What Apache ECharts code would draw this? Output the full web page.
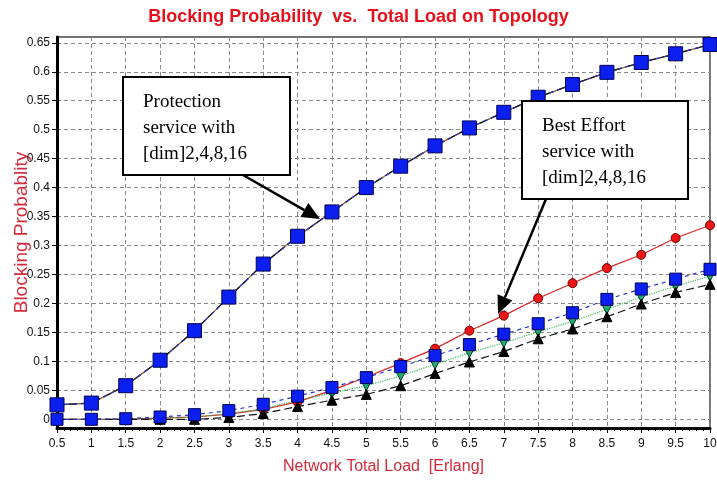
<!DOCTYPE html>
<html>
<head>
<meta charset="utf-8">
<script src="https://cdn.jsdelivr.net/npm/echarts@6/dist/echarts.min.js"></script>
<style>
  html, body { margin: 0; padding: 0; background: #fff; }
  #main { width: 717px; height: 486px; }
</style>
</head>
<body>
<div id="main"></div>
<script>
// network total load [Erlang]
var loads = [0.5, 1, 1.5, 2, 2.5, 3, 3.5, 4, 4.5, 5, 5.5, 6, 6.5, 7, 7.5, 8, 8.5, 9, 9.5, 10];
var yTicks = [0, 0.05, 0.1, 0.15, 0.2, 0.25, 0.3, 0.35, 0.4, 0.45, 0.5, 0.55, 0.6, 0.65];

// protection service, all dims overlap
var protection = [0.025, 0.028, 0.058, 0.102, 0.153, 0.211, 0.268, 0.316, 0.358, 0.40, 0.437, 0.472, 0.503, 0.53, 0.556, 0.578, 0.599, 0.616, 0.631, 0.647];

// best effort service
var bestDim2 = [0, 0, 0, 0.002, 0.004, 0.009, 0.017, 0.03, 0.05, 0.073, 0.097, 0.122, 0.153, 0.179, 0.209, 0.235, 0.261, 0.284, 0.313, 0.335];
var bestDim4 = [0, 0, 0.001, 0.004, 0.008, 0.015, 0.026, 0.04, 0.055, 0.072, 0.091, 0.11, 0.129, 0.147, 0.165, 0.184, 0.207, 0.225, 0.242, 0.259];
var bestDim8 = [0, 0, 0, 0.002, 0.004, 0.01, 0.018, 0.033, 0.045, 0.058, 0.075, 0.095, 0.115, 0.132, 0.151, 0.169, 0.19, 0.211, 0.23, 0.247];
var bestDim16 = [0, 0, 0, 0, 0, 0.003, 0.01, 0.022, 0.033, 0.043, 0.058, 0.079, 0.099, 0.117, 0.139, 0.156, 0.177, 0.199, 0.219, 0.233];

function pairs(vals) {
    return loads.map(function (x, i) { return [x, vals[i]]; });
}

var sans = "'Liberation Sans', Arial, sans-serif";
var serif = "'Liberation Serif', 'Times New Roman', serif";

var styles = {
    red:   { line: { color: '#dd2222', width: 1.2, type: 'solid' }, symbol: 'circle', size: 9, item: { color: '#ee1515', borderColor: '#700000', borderWidth: 1 }, rotate: 0 },
    green: { line: { color: '#33bb55', width: 1.2, type: 'dotted' }, symbol: 'triangle', size: 10, item: { color: '#22aa77', borderColor: '#004422', borderWidth: 1 }, rotate: 180 },
    black: { line: { color: '#111111', width: 1.2, type: [8, 4] }, symbol: 'triangle', size: 10, item: { color: '#000000', borderColor: '#000000', borderWidth: 1 }, rotate: 0 },
    blue:  { line: { color: '#2233cc', width: 1.2, type: [4, 4] }, symbol: 'rect', size: 12, item: { color: '#0b1ff0', borderColor: '#000055', borderWidth: 1 }, rotate: 0 }
};

function makeSeries(name, vals, s, size) {
    return {
        name: name,
        type: 'line',
        data: pairs(vals),
        symbol: s.symbol,
        symbolSize: size || s.size,
        symbolRotate: s.rotate,
        showAllSymbol: true,
        lineStyle: s.line,
        itemStyle: s.item,
        silent: true,
        animation: false
    };
}

var series = [
    makeSeries('BE dim2', bestDim2, styles.red),
    makeSeries('BE dim8', bestDim8, styles.green),
    makeSeries('BE dim16', bestDim16, styles.black),
    makeSeries('BE dim4', bestDim4, styles.blue, 12),
    makeSeries('P dim2', protection, styles.red),
    makeSeries('P dim8', protection, styles.green),
    makeSeries('P dim16', protection, styles.black),
    makeSeries('P dim4', protection, styles.blue, 14)
];

function box(x, y, w, h, txt) {
    return [
        { type: 'rect', shape: { x: x, y: y, width: w, height: h }, style: { fill: '#fff', stroke: '#000', lineWidth: 2 }, z: 100 },
        { type: 'text', x: x + 20, y: y + 12, style: { text: txt, font: '19px ' + serif, fill: '#000', lineHeight: 26 }, z: 101 }
    ];
}

function arrow(x1, y1, x2, y2) {
    var a = Math.atan2(y2 - y1, x2 - x1), L = 18, W = 8;
    var bx = x2 - L * Math.cos(a), by = y2 - L * Math.sin(a);
    var px = -Math.sin(a) * W, py = Math.cos(a) * W;
    return [
        { type: 'line', shape: { x1: x1, y1: y1, x2: bx, y2: by }, style: { stroke: '#000', lineWidth: 2.5 }, z: 100 },
        { type: 'polygon', shape: { points: [[x2, y2], [bx + px, by + py], [bx - px, by - py]] }, style: { fill: '#000' }, z: 100 }
    ];
}

var myChart = echarts.init(document.getElementById('main'));
var option = {
    animation: false,
    backgroundColor: '#fff',
    title: {
        text: 'Blocking Probability  vs.  Total Load on Topology',
        left: 'center',
        top: 3,
        textStyle: { color: '#e8101a', fontSize: 18, fontWeight: 'bold', fontFamily: sans }
    },
    grid: { left: 57, right: 7, top: 37, bottom: 58, outerBoundsMode: 'none', containLabel: false, show: true, borderColor: '#444', borderWidth: 1.5, backgroundColor: '#fff' },
    xAxis: {
        type: 'value',
        min: 0.5,
        max: 10,
        interval: 0.5,
        name: 'Network Total Load  [Erlang]',
        nameLocation: 'middle',
        nameGap: 31,
        nameMoveOverlap: false,
        nameTextStyle: { color: '#d42a3a', fontSize: 16, fontFamily: sans },
        axisLine: { onZero: false, lineStyle: { color: '#000', width: 3 } },
        axisTick: { length: 5, lineStyle: { color: '#000' } },
        minorTick: { show: true, splitNumber: 5, length: 3, lineStyle: { color: '#000' } },
        axisLabel: { color: '#111', fontSize: 12, fontFamily: sans, margin: 10 },
        splitLine: { show: true, lineStyle: { color: '#888', type: [4, 3], width: 1 } }
    },
    yAxis: {
        type: 'value',
        min: -0.015,
        max: 0.66,
        name: 'Blocking Probablity',
        nameLocation: 'middle',
        nameGap: 26,
        nameMoveOverlap: false,
        nameTextStyle: { color: '#d42a3a', fontSize: 19, fontFamily: sans },
        axisLine: { onZero: false, lineStyle: { color: '#000', width: 3 } },
        axisTick: { length: 5, customValues: yTicks, lineStyle: { color: '#000' } },
        axisLabel: { customValues: yTicks, color: '#111', fontSize: 12, fontFamily: sans, margin: 7 },
        splitLine: { show: true, lineStyle: { color: '#888', type: [4, 3], width: 1 } }
    },
    graphic: [].concat(
        arrow(243, 175, 320, 219),
        arrow(546, 199, 498, 314),
        box(123, 77, 167, 98, 'Protection\nservice with\n[dim]2,4,8,16'),
        box(522, 101, 166, 98, 'Best Effort\nservice with\n[dim]2,4,8,16')
    ),
    series: series
};
myChart.setOption(option);
</script>
</body>
</html>
